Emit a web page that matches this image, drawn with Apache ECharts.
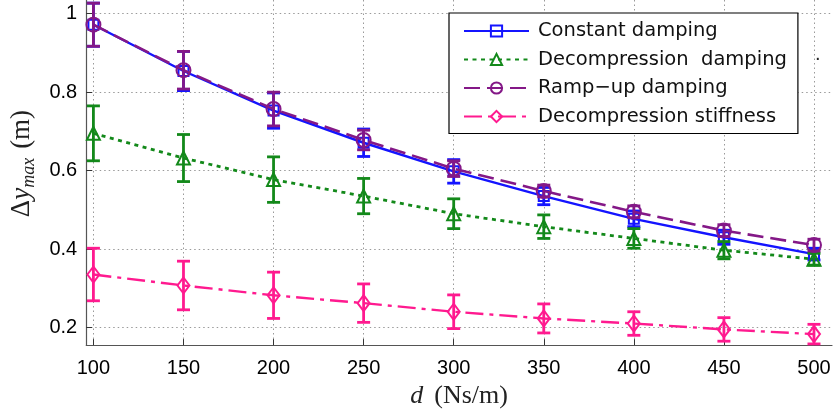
<!DOCTYPE html>
<html>
<head>
<meta charset="utf-8">
<script src="https://cdn.jsdelivr.net/npm/echarts@6/dist/echarts.min.js"></script>
<style>html,body{margin:0;padding:0;background:#fff}#c{width:834px;height:414px}</style>
</head>
<body>
<div id="c"></div>
<script>
var dValues = [100, 150, 200, 250, 300, 350, 400, 450, 500];
var xTicks = [100, 150, 200, 250, 300, 350, 400, 450, 500];
var yTicks = [0.2, 0.4, 0.6, 0.8, 1];

var seriesNames = ['Constant damping', 'Decompression  damping', 'Ramp\u2212up damping', 'Decompression stiffness'];

var constMean  = [0.972, 0.854, 0.753, 0.671, 0.598, 0.535, 0.477, 0.430, 0.387];
var constErr   = [0.055, 0.050, 0.045, 0.035, 0.030, 0.022, 0.020, 0.018, 0.015];
var decompMean = [0.695, 0.632, 0.577, 0.535, 0.490, 0.457, 0.427, 0.397, 0.374];
var decompErr  = [0.070, 0.060, 0.058, 0.045, 0.038, 0.030, 0.025, 0.022, 0.015];
var rampMean   = [0.972, 0.856, 0.757, 0.678, 0.605, 0.548, 0.495, 0.447, 0.410];
var rampErr    = [0.055, 0.048, 0.043, 0.025, 0.020, 0.015, 0.015, 0.015, 0.015];
var stiffMean  = [0.335, 0.307, 0.282, 0.262, 0.240, 0.223, 0.210, 0.195, 0.183];
var stiffErr   = [0.067, 0.062, 0.059, 0.049, 0.043, 0.037, 0.030, 0.030, 0.025];

var colors = ['#1414ff', '#13891a', '#841887', '#ff1a8f'];
var means = [constMean, decompMean, rampMean, stiffMean];
var errs = [constErr, decompErr, rampErr, stiffErr];
var symbols = ['rect', 'triangle', 'circle', 'diamond'];
var symbolSizes = [[10, 10], [13, 13], [14, 14], [12, 16]];
var dashes = ['solid', [4, 4.5], [16, 7], [18, 6, 4, 6]];
var widths = [2.4, 2.8, 2.6, 2.4];

function errRender(color) {
  return function (params, api) {
    var x = api.value(0), lo = api.value(1), hi = api.value(2);
    var p1 = api.coord([x, hi]), p2 = api.coord([x, lo]);
    var hw = 6.5;
    var st = {stroke: color, lineWidth: 2.8, fill: null};
    return {type: 'group', children: [
      {type: 'line', shape: {x1: p1[0], y1: p1[1], x2: p2[0], y2: p2[1]}, style: st},
      {type: 'line', shape: {x1: p1[0] - hw, y1: p1[1], x2: p1[0] + hw, y2: p1[1]}, style: st},
      {type: 'line', shape: {x1: p2[0] - hw, y1: p2[1], x2: p2[0] + hw, y2: p2[1]}, style: st}
    ]};
  };
}

var series = [];
for (var s = 0; s < 4; s++) {
  var errData = [], lineData = [];
  for (var i = 0; i < dValues.length; i++) {
    errData.push([dValues[i], means[s][i] - errs[s][i], means[s][i] + errs[s][i]]);
    lineData.push([dValues[i], means[s][i]]);
  }
  series.push({
    type: 'custom', name: 'err' + s, renderItem: errRender(colors[s]),
    data: errData, clip: false, z: 2 + s * 2, silent: true,
    encode: {x: 0, y: [1, 2]}
  });
  series.push({
    type: 'line', name: seriesNames[s], data: lineData, z: 3 + s * 2,
    symbol: symbols[s], symbolSize: symbolSizes[s], showAllSymbol: true,
    itemStyle: {color: 'rgba(255,255,255,0)', borderColor: colors[s], borderWidth: 2},
    lineStyle: {color: colors[s], width: widths[s], type: dashes[s]},
    emphasis: {disabled: true}, animation: false
  });
}

var chart = echarts.init(document.getElementById('c'), null, {renderer: 'canvas'});
chart.setOption({
  backgroundColor: '#fff',
  animation: false,
  grid: {left: 83, right: 2, top: 0, bottom: 65, containLabel: false},
  xAxis: {
    type: 'value', min: 96, max: 510, splitNumber: 8,
    axisLine: {onZero: false, lineStyle: {color: '#555', width: 1.2}},
    axisTick: {inside: true, length: 6, lineStyle: {color: '#333'}},
    axisLabel: {
      showMinLabel: false, showMaxLabel: false, margin: 13,
      color: '#000', fontFamily: 'Liberation Sans', fontSize: 20,
      formatter: function (v) { return xTicks.indexOf(v) >= 0 ? String(v) : ''; }
    },
    splitLine: {show: true, showMinLine: false, showMaxLine: false, lineStyle: {color: '#9a9a9a', width: 1, type: [1.5, 3]}},
    name: '{i|d}{sp|}{n|(Ns/m)}', nameLocation: 'middle', nameGap: 31,
    nameTextStyle: {
      rich: {
        i: {fontFamily: 'Liberation Serif', fontStyle: 'italic', fontSize: 26, color: '#222'},
        sp: {width: 11},
        n: {fontFamily: 'Liberation Serif', fontSize: 26, color: '#222'}
      }
    }
  },
  yAxis: {
    type: 'value', min: 0.155, max: 1.035, splitNumber: 5,
    axisLine: {show: true, onZero: false, lineStyle: {color: '#555', width: 1.2}},
    axisTick: {show: true, inside: true, length: 6, lineStyle: {color: '#333'}},
    axisLabel: {
      showMinLabel: false, showMaxLabel: false, margin: 9,
      color: '#000', fontFamily: 'Liberation Sans', fontSize: 20,
      formatter: function (v) {
        for (var k = 0; k < yTicks.length; k++) { if (Math.abs(yTicks[k] - v) < 1e-6) return String(yTicks[k]); }
        return '';
      }
    },
    splitLine: {show: true, showMinLine: false, showMaxLine: false, lineStyle: {color: '#9a9a9a', width: 1, type: [1.5, 3]}},
    name: '{d|\u0394}{i|y}{s|max}{sp|}{n|(m)}', nameLocation: 'middle', nameGap: 40, nameRotate: 90,
    nameTextStyle: {
      padding: [0, 0, 0, 18],
      rich: {
        d: {fontFamily: 'Liberation Serif', fontSize: 27, color: '#222', lineHeight: 34, verticalAlign: 'middle'},
        i: {fontFamily: 'Liberation Serif', fontStyle: 'italic', fontSize: 27, color: '#222', lineHeight: 34, verticalAlign: 'middle'},
        s: {fontFamily: 'Liberation Serif', fontStyle: 'italic', fontSize: 18, color: '#222', lineHeight: 34, verticalAlign: 'bottom'},
        sp: {width: 9},
        n: {fontFamily: 'Liberation Serif', fontSize: 27, color: '#222', lineHeight: 34, verticalAlign: 'middle'}
      }
    }
  },
  legend: {
    orient: 'vertical', left: 449, top: 13,
    data: seriesNames,
    itemWidth: 65, itemHeight: 14, itemGap: 8.5,
    padding: [8, 11, 7, 14],
    backgroundColor: '#fff', borderColor: '#000', borderWidth: 1.2,
    textStyle: {fontFamily: 'DejaVu Sans', fontSize: 19.5, color: '#111', padding: [0, 0, 0, 4]},
    selectedMode: false
  },
  graphic: [{
    type: 'text', left: 815, top: 44,
    style: {text: '.', fontFamily: 'Liberation Sans', fontSize: 20, fill: '#222'}
  }],
  series: series
});
</script>
</body>
</html>
